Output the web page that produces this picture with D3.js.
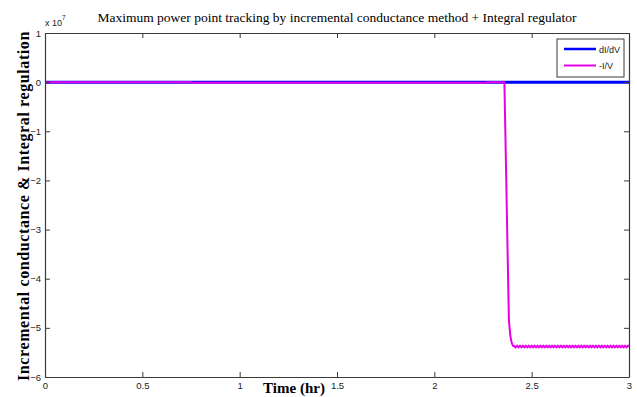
<!DOCTYPE html>
<html>
<head>
<meta charset="utf-8">
<script src="https://cdn.jsdelivr.net/npm/d3@7"></script>
<style>
  html, body { margin: 0; padding: 0; background: #fff; }
  svg { display: block; }
</style>
</head>
<body>
<svg id="chart" width="637" height="397"></svg>
<script>
// Signals, in units of 1e7, against time in hours
const xTicks = [0, 0.5, 1, 1.5, 2, 2.5, 3];
const yTicks = [1, 0, -1, -2, -3, -4, -5, -6];

// dI/dV stays at zero over the whole run
const dIdVTime  = [0, 3];
const dIdVValue = [0, 0];

// -I/V: flat near zero, then a sharp drop around 2.36 h
const ivTime  = [0, 0.75, 0.75, 2.27, 2.27, 2.36, 2.383, 2.39, 2.397, 2.405];
const ivValue = [0, 0, -0.012, -0.012, 0, 0, -4.84, -5.15, -5.30, -5.37];

// ripple on the settled -I/V level
const rippleTime = [
  2.410, 2.4175, 2.425, 2.4325, 2.440, 2.4475, 2.455, 2.4625, 2.470, 2.4775,
  2.485, 2.4925, 2.500, 2.5075, 2.515, 2.5225, 2.530, 2.5375, 2.545, 2.5525,
  2.560, 2.5675, 2.575, 2.5825, 2.590, 2.5975, 2.605, 2.6125, 2.620, 2.6275,
  2.635, 2.6425, 2.650, 2.6575, 2.665, 2.6725, 2.680, 2.6875, 2.695, 2.7025,
  2.710, 2.7175, 2.725, 2.7325, 2.740, 2.7475, 2.755, 2.7625, 2.770, 2.7775,
  2.785, 2.7925, 2.800, 2.8075, 2.815, 2.8225, 2.830, 2.8375, 2.845, 2.8525,
  2.860, 2.8675, 2.875, 2.8825, 2.890, 2.8975, 2.905, 2.9125, 2.920, 2.9275,
  2.935, 2.9425, 2.950, 2.9575, 2.965, 2.9725, 2.980, 2.9875, 2.995, 3.000
];
const rippleValue = [
  -5.37, -5.40, -5.36, -5.40, -5.36, -5.40, -5.36, -5.40, -5.36, -5.40,
  -5.36, -5.40, -5.36, -5.40, -5.36, -5.40, -5.36, -5.40, -5.36, -5.40,
  -5.36, -5.40, -5.36, -5.40, -5.36, -5.40, -5.36, -5.40, -5.36, -5.40,
  -5.36, -5.40, -5.36, -5.40, -5.36, -5.40, -5.36, -5.40, -5.36, -5.40,
  -5.36, -5.40, -5.36, -5.40, -5.36, -5.40, -5.36, -5.40, -5.36, -5.40,
  -5.36, -5.40, -5.36, -5.40, -5.36, -5.40, -5.36, -5.40, -5.36, -5.40,
  -5.36, -5.40, -5.36, -5.40, -5.36, -5.40, -5.36, -5.40, -5.36, -5.40,
  -5.36, -5.40, -5.36, -5.40, -5.36, -5.40, -5.36, -5.40, -5.36, -5.38
];

const legendLabels = ["dI/dV", "-I/V"];
const seriesColors = ["#0000ff", "#e600e6"];

const svg = d3.select("#chart");
const plot = { left: 45, right: 629, top: 33, bottom: 377 };

const x = d3.scaleLinear().domain([0, 3]).range([plot.left, plot.right]);
const y = d3.scaleLinear().domain([-6, 1]).range([plot.bottom, plot.top]);

const axisColor = "#3a3a3a";
const tickFont = "'Liberation Sans', Arial, sans-serif";
const serif = "'Liberation Serif', 'Times New Roman', serif";

// Series
const line = d3.line().x(d => x(d[0])).y(d => y(d[1]));

svg.append("path")
  .datum(d3.zip(dIdVTime, dIdVValue))
  .attr("d", line)
  .attr("fill", "none")
  .attr("stroke", seriesColors[0])
  .attr("stroke-width", 3);

svg.append("path")
  .datum(d3.zip(ivTime, ivValue).concat(d3.zip(rippleTime, rippleValue)))
  .attr("d", line)
  .attr("fill", "none")
  .attr("stroke", seriesColors[1])
  .attr("stroke-width", 2)
  .attr("stroke-linejoin", "round");

// Axes: ticks drawn inward on all four sides
function styleAxis(g) {
  g.select(".domain").attr("stroke", axisColor).attr("stroke-width", 1.2);
  g.selectAll(".tick line").attr("stroke", axisColor);
  g.selectAll(".tick text").attr("fill", "#222")
    .attr("font-family", tickFont).attr("font-size", 9.5);
}

svg.append("g")
  .attr("transform", `translate(0,${plot.bottom})`)
  .call(d3.axisBottom(x).tickValues(xTicks).tickFormat(d3.format("")).tickSizeInner(-5).tickSizeOuter(0).tickPadding(5))
  .call(styleAxis);

svg.append("g")
  .attr("transform", `translate(0,${plot.top})`)
  .call(d3.axisTop(x).tickValues(xTicks).tickFormat("").tickSizeInner(-5).tickSizeOuter(0))
  .call(styleAxis);

svg.append("g")
  .attr("transform", `translate(${plot.left},0)`)
  .call(d3.axisLeft(y).tickValues(yTicks).tickFormat(d3.format("")).tickSizeInner(-5).tickSizeOuter(0).tickPadding(4))
  .call(styleAxis);

svg.append("g")
  .attr("transform", `translate(${plot.right},0)`)
  .call(d3.axisRight(y).tickValues(yTicks).tickFormat("").tickSizeInner(-5).tickSizeOuter(0))
  .call(styleAxis);

// Exponent marker
const expo = svg.append("text")
  .attr("x", plot.left).attr("y", 26)
  .attr("font-family", tickFont).attr("font-size", 9).attr("fill", "#222");
expo.append("tspan").text("x 10");
expo.append("tspan").attr("dy", -6).attr("font-size", 6.5).text("7");

// Title
svg.append("text")
  .attr("x", (plot.left + plot.right) / 2).attr("y", 22)
  .attr("text-anchor", "middle")
  .attr("font-family", serif).attr("font-size", 13.5).attr("fill", "#000")
  .text("Maximum power point tracking by incremental conductance method + Integral regulator");

// Axis titles
svg.append("text")
  .attr("x", 294).attr("y", 393)
  .attr("text-anchor", "middle")
  .attr("font-family", serif).attr("font-weight", "bold").attr("font-size", 15).attr("fill", "#000")
  .text("Time (hr)");

svg.append("text")
  .attr("transform", `translate(29,${(plot.top + plot.bottom) / 2 + 1}) rotate(-90)`)
  .attr("text-anchor", "middle")
  .attr("font-family", serif).attr("font-weight", "bold").attr("font-size", 16)
  .attr("letter-spacing", 0.6).attr("fill", "#000")
  .text("Incremental conductance & Integral regulation");

// Legend
const legend = svg.append("g").attr("transform", "translate(557,39)");
legend.append("rect")
  .attr("width", 67).attr("height", 38)
  .attr("fill", "#fff").attr("stroke", axisColor).attr("stroke-width", 1);
legendLabels.forEach((label, i) => {
  const ly = 10 + i * 16.5;
  legend.append("line")
    .attr("x1", 7).attr("x2", 39).attr("y1", ly).attr("y2", ly)
    .attr("stroke", seriesColors[i]).attr("stroke-width", i === 0 ? 2.5 : 2);
  legend.append("text")
    .attr("x", 42).attr("y", ly + 3.5)
    .attr("font-family", tickFont).attr("font-size", 9).attr("fill", "#222")
    .text(label);
});
</script>
</body>
</html>
